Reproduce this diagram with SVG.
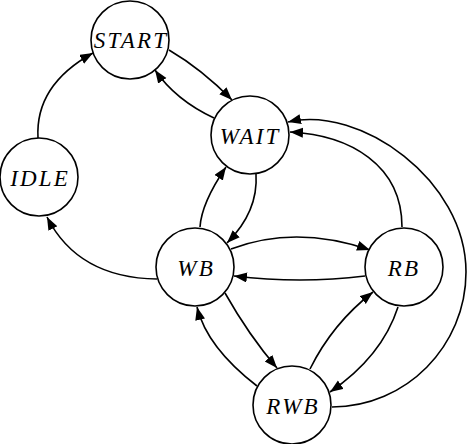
<svg xmlns="http://www.w3.org/2000/svg" width="474" height="444" viewBox="0 0 474 444">
<style>
.node circle{fill:#fff;stroke:#000;stroke-width:1.6}
.node text{font-family:"Liberation Serif","Times New Roman",serif;font-style:italic;font-size:23px;letter-spacing:2.2px;text-anchor:middle;fill:#000}
#edges path{fill:none;stroke:#000;stroke-width:1.6;marker-end:url(#arr)}
</style>
<defs>
<marker id="arr" markerUnits="userSpaceOnUse" markerWidth="14" markerHeight="11" refX="13" refY="5" orient="auto">
<path d="M0,0 L13,5 L0,10 z" fill="#000"/>
</marker>
</defs>
<rect width="474" height="444" fill="#fff"/>
<g id="edges">
<path id="idle-start" d="M38,138 Q35,85 93,53"/>
<path id="start-wait" d="M169,50 Q201.5,69 232,100"/>
<path id="wait-start" d="M214,118 Q175.5,100 155,70"/>
<path id="wait-wb" d="M256,174 Q258.5,211.5 227,243"/>
<path id="wb-wait" d="M200,227 Q201.5,203 226,167"/>
<path id="wb-idle" d="M157,279 Q78,278 47,217"/>
<path id="wb-rb" d="M231,249 Q295.5,224.5 370,250"/>
<path id="rb-wb" d="M365,276 Q300.5,284 234,276"/>
<path id="wb-rwb" d="M225,293 Q249,335.5 277,368"/>
<path id="rwb-wb" d="M257,386 Q207,347.5 197,307"/>
<path id="rwb-rb" d="M310,369 Q332.5,323.5 373,292"/>
<path id="rb-rwb" d="M398,307 Q382,356.5 330,392"/>
<path id="rb-wait" d="M402,227 C402,165 350,135 290,132"/>
<path id="rwb-wait" d="M332,407 C406,407 466,346 466,272 C466,180 360,105 288,122"/>
</g>
<g id="START" class="node"><circle cx="130" cy="40" r="39"/><text x="131.1" y="47.5">START</text></g>
<g id="WAIT" class="node"><circle cx="250" cy="135" r="39"/><text x="250.1" y="143.5">WAIT</text></g>
<g id="IDLE" class="node"><circle cx="39" cy="177" r="39"/><text x="40.1" y="185.5">IDLE</text></g>
<g id="WB" class="node"><circle cx="195" cy="267" r="39"/><text x="196.1" y="276">WB</text></g>
<g id="RB" class="node"><circle cx="404" cy="267" r="39"/><text x="404.1" y="276">RB</text></g>
<g id="RWB" class="node"><circle cx="292" cy="405" r="39"/><text x="293.1" y="413.5">RWB</text></g>
</svg>
